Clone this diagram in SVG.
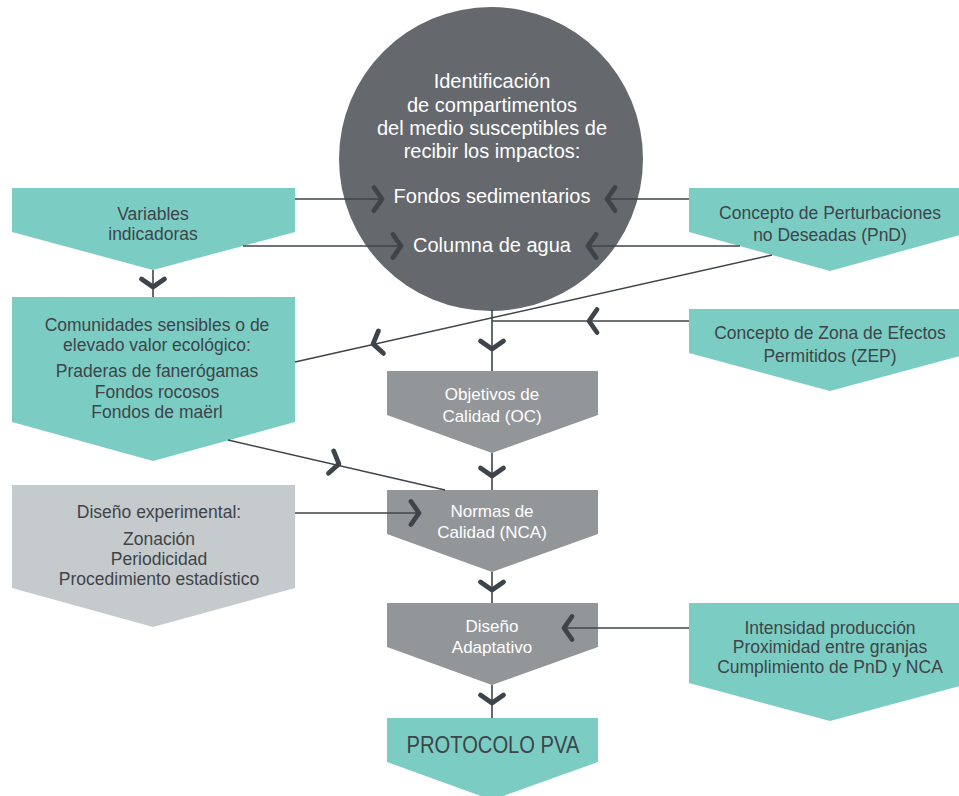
<svg xmlns="http://www.w3.org/2000/svg" xmlns:xlink="http://www.w3.org/1999/xlink" width="959" height="796" viewBox="0 0 959 796">
<style>
.teal{fill:#7bcdc3}
.gray{fill:#939699}
.lgray{fill:#c5cacc}
.circ{fill:#65686d}
.t{font-family:"Liberation Sans",Arial,sans-serif;font-size:17.5px;text-anchor:middle;fill:#3e4449}
.w{font-family:"Liberation Sans",Arial,sans-serif;font-size:17px;text-anchor:middle;fill:#ffffff}
.cw{font-family:"Liberation Sans",Arial,sans-serif;font-size:20px;text-anchor:middle;fill:#ffffff}
.ln{stroke:#3e4449;stroke-width:1.6;fill:none}
.ch{stroke:#3e4449;stroke-width:4.8;fill:none;stroke-linecap:round;stroke-linejoin:round}
</style>
<defs>
<path id="chD" class="ch" d="M-11.5,-4 L0,4 L11.5,-4"/>
<path id="chR" class="ch" d="M-4,-11.5 L4,0 L-4,11.5"/>
<path id="chL" class="ch" d="M4,-11.5 L-4,0 L4,11.5"/>
</defs>

<g id="circle-node">
<circle class="circ" cx="491" cy="159" r="152"/>
</g>

<g id="variables">
<polygon class="teal" points="12,188 295,188 295,232 153,270 12,232"/>
<text class="t" x="153" y="220">Variables</text>
<text class="t" x="153" y="240">indicadoras</text>
</g>

<g id="pnd">
<polygon class="teal" points="689,188 971,188 971,232 830,271 689,232"/>
<text class="t" x="830" y="219">Concepto de Perturbaciones</text>
<text class="t" x="830" y="241">no Deseadas (PnD)</text>
</g>

<g id="comunidades">
<polygon class="teal" points="12,297 295,297 295,422 153,461 12,422"/>
<text class="t" x="157" y="331">Comunidades sensibles o de</text>
<text class="t" x="157" y="351">elevado valor ecológico:</text>
<text class="t" x="157" y="377">Praderas de fanerógamas</text>
<text class="t" x="157" y="398">Fondos rocosos</text>
<text class="t" x="157" y="418">Fondos de maërl</text>
</g>

<g id="zep">
<polygon class="teal" points="689,309 971,309 971,353 830,391 689,353"/>
<text class="t" x="830" y="339">Concepto de Zona de Efectos</text>
<text class="t" x="830" y="362">Permitidos (ZEP)</text>
</g>

<g id="objetivos">
<polygon class="gray" points="387,371 598,371 598,415 492,453 387,415"/>
<text class="w" x="492" y="400">Objetivos de</text>
<text class="w" x="492" y="422">Calidad (OC)</text>
</g>

<g id="diseno-experimental">
<polygon class="lgray" points="12,485 295,485 295,588 153,627 12,588"/>
<text class="t" x="159" y="518">Diseño experimental:</text>
<text class="t" x="159" y="545">Zonación</text>
<text class="t" x="159" y="565">Periodicidad</text>
<text class="t" x="159" y="585">Procedimiento estadístico</text>
</g>

<g id="normas">
<polygon class="gray" points="387,490 598,490 598,534 492,572 387,534"/>
<text class="w" x="492" y="517">Normas de</text>
<text class="w" x="492" y="538">Calidad (NCA)</text>
</g>

<g id="diseno-adaptativo">
<polygon class="gray" points="387,603 598,603 598,647 492,685 387,647"/>
<text class="w" x="492" y="632">Diseño</text>
<text class="w" x="492" y="653">Adaptativo</text>
</g>

<g id="intensidad">
<polygon class="teal" points="689,603 971,603 971,683 830,721 689,683"/>
<text class="t" x="830" y="634">Intensidad producción</text>
<text class="t" x="830" y="653">Proximidad entre granjas</text>
<text class="t" x="830" y="673">Cumplimiento de PnD y NCA</text>
</g>

<g id="protocolo">
<polygon class="teal" points="387,718 598,718 598,762 492,800 387,762"/>
<text x="493" y="753" font-family="Liberation Sans, Arial, sans-serif" font-size="23" text-anchor="middle" fill="#3e4449" textLength="173" lengthAdjust="spacingAndGlyphs">PROTOCOLO PVA</text>
</g>

<g id="connectors">
<line class="ln" x1="295" y1="199" x2="381" y2="199"/>
<line class="ln" x1="243" y1="246" x2="400" y2="246"/>
<line class="ln" x1="689" y1="199" x2="608" y2="199"/>
<line class="ln" x1="740" y1="246" x2="589" y2="246"/>
<line class="ln" x1="153" y1="270" x2="153" y2="297"/>
<line class="ln" x1="772" y1="255" x2="295" y2="362"/>
<line class="ln" x1="492" y1="310" x2="492" y2="371"/>
<line class="ln" x1="689" y1="321" x2="492" y2="321"/>
<line class="ln" x1="228" y1="440" x2="445" y2="490"/>
<line class="ln" x1="492" y1="453" x2="492" y2="490"/>
<line class="ln" x1="295" y1="513" x2="419" y2="513"/>
<line class="ln" x1="492" y1="572" x2="492" y2="603"/>
<line class="ln" x1="689" y1="628" x2="566" y2="628"/>
<line class="ln" x1="492" y1="685" x2="492" y2="718"/>
<use xlink:href="#chR" transform="translate(378,199)"/>
<use xlink:href="#chR" transform="translate(397,246)"/>
<use xlink:href="#chL" transform="translate(611,199)"/>
<use xlink:href="#chL" transform="translate(592,246)"/>
<use xlink:href="#chD" transform="translate(153,283)"/>
<use xlink:href="#chL" transform="translate(377,343) rotate(-12.6)"/>
<use xlink:href="#chD" transform="translate(492,345)"/>
<use xlink:href="#chL" transform="translate(593,321)"/>
<use xlink:href="#chR" transform="translate(335,463) rotate(13)"/>
<use xlink:href="#chD" transform="translate(492,472)"/>
<use xlink:href="#chR" transform="translate(415,513)"/>
<use xlink:href="#chD" transform="translate(492,586)"/>
<use xlink:href="#chL" transform="translate(568,628)"/>
<use xlink:href="#chD" transform="translate(492,699)"/>
</g>

<g id="circle-text">
<text class="cw" x="492" y="88">Identificación</text>
<text class="cw" x="492" y="112">de compartimentos</text>
<text class="cw" x="492" y="135">del medio susceptibles de</text>
<text class="cw" x="492" y="158">recibir los impactos:</text>
<text class="cw" x="492" y="203">Fondos sedimentarios</text>
<text class="cw" x="492" y="252">Columna de agua</text>
</g>
</svg>
